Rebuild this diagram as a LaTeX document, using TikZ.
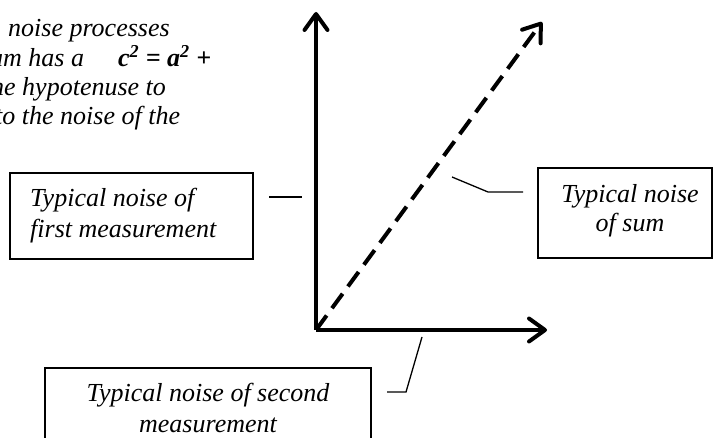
\documentclass[tikz,border=0pt]{standalone}
\usepackage{fontspec}
\setmainfont{Liberation Serif}
\usetikzlibrary{arrows.meta}
\tikzset{
  txt/.style={inner sep=0pt, font=\fontsize{26}{30}\selectfont\itshape},
  boxline/.style={draw, line width=1.4pt, inner sep=0pt},
  callout/.style={line width=1.3pt},
  axis/.style={line width=4pt, -{Straight Barb[length=16pt,width=23pt,round]}},
  sumaxis/.style={line width=4pt, dash pattern=on 18pt off 9pt, -{Straight Barb[length=16pt,width=23pt,round]}}
}
\begin{document}
\begin{tikzpicture}[x=1pt,y=-1pt]
\useasboundingbox (0,0) rectangle (714,438);
\clip (0,0) rectangle (714,438);

% top-left text (clipped at the left edge, as in the reference)
\node[txt, anchor=base west] (t1) at (8,37) {noise processes};
\node[txt, anchor=base west] (t2) at (-10,67) {um has a};
\node[txt, anchor=base west] (eq) at (118,67) {\bfseries\textit{c}\textsuperscript{2} = \textit{a}\textsuperscript{2} +};
\node[txt, anchor=base west] (t3) at (-9,96) {he hypotenuse to};
\node[txt, anchor=base west] (t4) at (-5,125) {to the noise of the};

% axes
\coordinate (O) at (316,330);
\coordinate (Ytip) at (316,12);
\coordinate (Xtip) at (547,330);
\coordinate (Stip) at (542,22);
\draw[axis] (O) -- (Ytip);
\draw[axis] (O) -- (Xtip);
\draw[sumaxis] (O) -- (Stip);

% left box
\node[boxline, minimum width=243pt, minimum height=86pt] (bfirst) at (131.5,216) {};
\node[txt, anchor=base west] (lf1) at (30,207) {Typical noise of};
\node[txt, anchor=base west] (lf2) at (30,237) {first measurement};
\coordinate (cf1) at (269,197);
\coordinate (cf2) at (302,197);
\draw[callout] (cf1) -- (cf2);

% right box
\node[boxline, minimum width=174pt, minimum height=90pt] (bsum) at (625,213) {};
\node[txt, anchor=base] (ls1) at (630,203) {Typical noise};
\node[txt, anchor=base] (ls2) at (630,232) {of sum};
\coordinate (cs1) at (452,177);
\coordinate (cs2) at (488,192);
\coordinate (cs3) at (523,192);
\draw[callout] (cs1) -- (cs2) -- (cs3);

% bottom box
\node[boxline, minimum width=326pt, minimum height=90pt] (bsec) at (208,413) {};
\node[txt, anchor=base] (lb1) at (208,401) {Typical noise of second};
\node[txt, anchor=base] (lb2) at (208,432) {measurement};
\coordinate (cb1) at (422,337);
\coordinate (cb2) at (406,392);
\coordinate (cb3) at (387,392);
\draw[callout] (cb1) -- (cb2) -- (cb3);
\end{tikzpicture}
\end{document}
